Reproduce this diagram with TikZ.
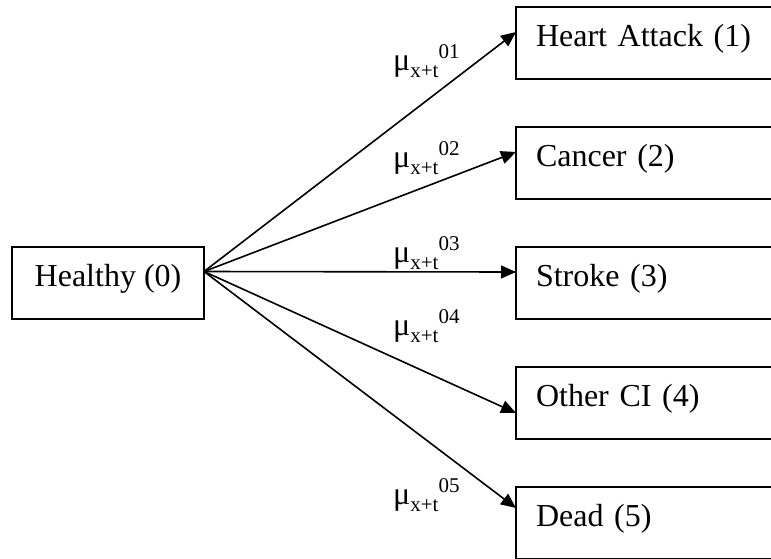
\documentclass[tikz,border=0pt]{standalone}
\usepackage{fontspec}
\setmainfont{Liberation Serif}
\usetikzlibrary{arrows.meta,positioning,calc}

% transition intensity label: mu, subscript x+t, superscript after it
\newcommand{\ratelabel}[1]{\fontsize{32}{32}\selectfont μ{\fontsize{21}{21}\selectfont\raisebox{-7pt}{x+t}\raisebox{12pt}{#1}}}

\begin{document}
\begin{tikzpicture}[x=1pt,y=-1pt,
	state/.style={draw,line width=1.6pt,rectangle,inner xsep=20pt,inner ysep=0pt,outer sep=0pt,
		text height=39pt,text depth=33pt,font=\fontsize{32}{38}\selectfont},
	dest/.style={text width=260pt,align=left},
	trans/.style={line width=1.6pt,-{Triangle[length=15pt,width=13pt]}},
	rate/.style={anchor=base west,inner sep=0pt}]
	\clip (0,0) rectangle (771,558);
	
	% Starting state
	\node[state,anchor=north west,minimum width=192pt] (healthy) at (12,247) {Healthy (0)};
	\coordinate (fan) at ([yshift=11.5pt]healthy.east);
	
	% Destination states
	\node[state,dest,anchor=north west] (heart) at (516,7) {Heart Attack (1)};
	\node[state,dest,below=48pt of heart] (cancer) {Cancer (2)};
	\node[state,dest,below=48pt of cancer] (stroke) {Stroke (3)};
	\node[state,dest,below=48pt of stroke] (other) {Other CI (4)};
	\node[state,dest,below=48pt of other] (dead) {Dead (5)};
	
	% Transitions
	\draw[trans] (fan) -- ([yshift=11pt]heart.west);
	\draw[trans] (fan) -- ([yshift=11pt]cancer.west);
	\draw[trans] (fan) -- ([yshift=11pt]stroke.west);
	\draw[trans] (fan) -- ([yshift=-10pt]other.west);
	\draw[trans] (fan) -- ([yshift=15pt]dead.west);
	
	% Intensities
	\node[rate] (mu1) at (393,70) {\ratelabel{01}};
	\node[rate] (mu2) at (393,167) {\ratelabel{02}};
	\node[rate] (mu3) at (393,262) {\ratelabel{03}};
	\node[rate] (mu4) at (393,335) {\ratelabel{04}};
	\node[rate] (mu5) at (393,504) {\ratelabel{05}};
\end{tikzpicture}
\end{document}
